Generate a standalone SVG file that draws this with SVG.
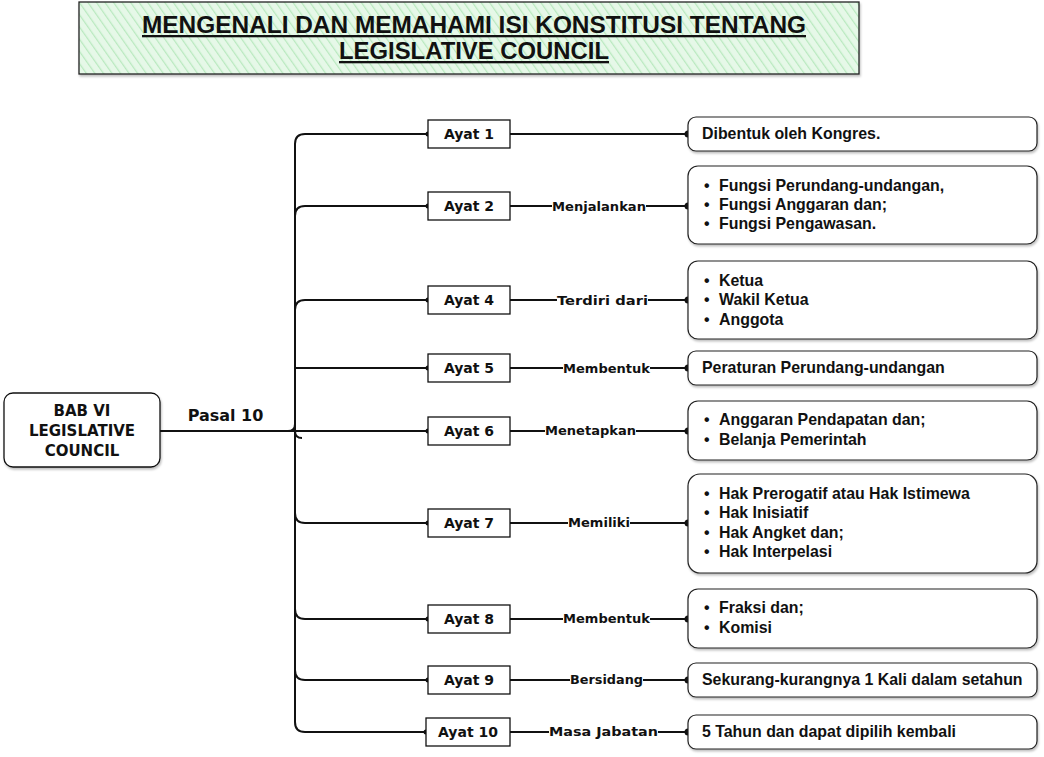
<svg xmlns="http://www.w3.org/2000/svg" width="1044" height="757" viewBox="0 0 1044 757">
<defs>
<pattern id="hatch" patternUnits="userSpaceOnUse" width="7" height="7" patternTransform="rotate(-35)">
<rect width="7" height="7" fill="#e6f8e8"/>
<line x1="0" y1="0" x2="0" y2="7" stroke="#b9e9bf" stroke-width="2.5"/>
</pattern>
<filter id="sh" x="-10%" y="-10%" width="120%" height="130%">
<feDropShadow dx="1" dy="2" stdDeviation="1.2" flood-color="#000" flood-opacity="0.25"/>
</filter>
</defs>
<style>
.title{font-family:"Liberation Sans",Arial,sans-serif;font-weight:bold;font-size:23px;fill:#111;text-decoration:underline}
.comic{font-family:"DejaVu Sans",Verdana,sans-serif;font-weight:bold;fill:#111}
.ayat{font-size:14px}
.lbl{font-size:13px}
.box{fill:#fff;stroke:#111;stroke-width:1.3}
.rbox{fill:#fff;stroke:#222;stroke-width:1.2}
.txt{font-family:"Liberation Sans",Arial,sans-serif;font-weight:bold;font-size:15.9px;fill:#111}
.ln{fill:none;stroke:#111;stroke-width:2}
.dot{fill:#111}
</style>
<rect width="1044" height="757" fill="#fff"/>

<g id="title">
<rect x="79" y="2" width="780" height="72" fill="url(#hatch)" stroke="#222" stroke-width="1.3" filter="url(#sh)"/>
<text class="title" x="474" y="33" text-anchor="middle" textLength="664" lengthAdjust="spacingAndGlyphs">MENGENALI DAN MEMAHAMI ISI KONSTITUSI TENTANG</text>
<text class="title" x="474" y="59" text-anchor="middle" textLength="270" lengthAdjust="spacingAndGlyphs">LEGISLATIVE COUNCIL</text>
</g>

<g id="connectors">
<path class="ln" stroke-width="2.5" d="M160 431 H288 Q295 431 295 424 M295 431 Q295 438 302 438"/>
<path class="ln" stroke-width="2.5" d="M160 431 H295"/>
<path class="ln" stroke-width="2.5" d="M295 144 V722"/>
<path class="ln" d="M295 144 Q295 134 305 134 H428"/>
<path class="ln" d="M295 216 Q295 206 305 206 H428"/>
<path class="ln" d="M295 310 Q295 300 305 300 H428"/>
<path class="ln" d="M295 368 H428"/>
<path class="ln" d="M295 431 H428"/>
<path class="ln" d="M295 513 Q295 523 305 523 H428"/>
<path class="ln" d="M295 609 Q295 619 305 619 H428"/>
<path class="ln" d="M295 670 Q295 680 305 680 H428"/>
<path class="ln" d="M295 722 Q295 732 305 732 H426"/>
<g class="dot">
<circle cx="428" cy="134" r="2.5"/><circle cx="428" cy="206" r="2.5"/><circle cx="428" cy="300" r="2.5"/>
<circle cx="428" cy="368" r="2.5"/><circle cx="428" cy="431" r="2.5"/><circle cx="428" cy="523" r="2.5"/>
<circle cx="428" cy="619" r="2.5"/><circle cx="428" cy="680" r="2.5"/><circle cx="426" cy="732" r="2.5"/>
</g>
<path class="ln" d="M510 134 H688"/>
<path class="ln" d="M510 206 H688"/>
<path class="ln" d="M510 300 H688"/>
<path class="ln" d="M510 368 H688"/>
<path class="ln" d="M510 431 H688"/>
<path class="ln" d="M510 523 H688"/>
<path class="ln" d="M510 619 H688"/>
<path class="ln" d="M510 680 H688"/>
<path class="ln" d="M510 732 H688"/>
<g class="dot">
<circle cx="688" cy="134" r="3.5"/><circle cx="688" cy="206" r="3.5"/><circle cx="688" cy="300" r="3.5"/>
<circle cx="688" cy="368" r="3.5"/><circle cx="688" cy="431" r="3.5"/><circle cx="688" cy="523" r="3.5"/>
<circle cx="688" cy="619" r="3.5"/><circle cx="688" cy="680" r="3.5"/><circle cx="688" cy="732" r="3.5"/>
</g>
<g fill="#fff">
<rect x="552" y="198" width="94" height="16"/>
<rect x="557" y="292" width="91" height="16"/>
<rect x="563" y="360" width="87" height="16"/>
<rect x="545" y="423" width="91" height="16"/>
<rect x="568" y="515" width="62" height="16"/>
<rect x="563" y="611" width="87" height="16"/>
<rect x="570" y="672" width="73" height="16"/>
<rect x="549" y="724" width="109" height="16"/>
</g>
<g class="comic lbl" text-anchor="middle">
<text x="599" y="211" textLength="94" lengthAdjust="spacingAndGlyphs">Menjalankan</text>
<text x="602.5" y="305" textLength="91" lengthAdjust="spacingAndGlyphs">Terdiri dari</text>
<text x="606.5" y="373" textLength="87" lengthAdjust="spacingAndGlyphs">Membentuk</text>
<text x="590.5" y="435" textLength="91" lengthAdjust="spacingAndGlyphs">Menetapkan</text>
<text x="599" y="527" textLength="62" lengthAdjust="spacingAndGlyphs">Memiliki</text>
<text x="606.5" y="623" textLength="87" lengthAdjust="spacingAndGlyphs">Membentuk</text>
<text x="606.5" y="684" textLength="73" lengthAdjust="spacingAndGlyphs">Bersidang</text>
<text x="603.5" y="736" textLength="109" lengthAdjust="spacingAndGlyphs">Masa Jabatan</text>
</g>
<text class="comic" x="225.5" y="421" font-size="16" text-anchor="middle">Pasal 10</text>
</g>

<g id="root">
<rect x="4" y="393" width="156" height="74" rx="9" class="box" filter="url(#sh)"/>
<g class="comic" font-size="15" text-anchor="middle">
<text x="82" y="416">BAB VI</text>
<text x="82" y="436">LEGISLATIVE</text>
<text x="82" y="456">COUNCIL</text>
</g>
</g>

<g id="ayat1"><rect class="box" x="428" y="120" width="82" height="28"/><text class="comic ayat" x="469" y="139" text-anchor="middle">Ayat 1</text></g>
<g id="ayat2"><rect class="box" x="428" y="192" width="82" height="28"/><text class="comic ayat" x="469" y="211" text-anchor="middle">Ayat 2</text></g>
<g id="ayat4"><rect class="box" x="428" y="286" width="82" height="28"/><text class="comic ayat" x="469" y="305" text-anchor="middle">Ayat 4</text></g>
<g id="ayat5"><rect class="box" x="428" y="354" width="82" height="28"/><text class="comic ayat" x="469" y="373" text-anchor="middle">Ayat 5</text></g>
<g id="ayat6"><rect class="box" x="428" y="417" width="82" height="28"/><text class="comic ayat" x="469" y="436" text-anchor="middle">Ayat 6</text></g>
<g id="ayat7"><rect class="box" x="428" y="509" width="82" height="28"/><text class="comic ayat" x="469" y="528" text-anchor="middle">Ayat 7</text></g>
<g id="ayat8"><rect class="box" x="428" y="605" width="82" height="28"/><text class="comic ayat" x="469" y="624" text-anchor="middle">Ayat 8</text></g>
<g id="ayat9"><rect class="box" x="428" y="666" width="82" height="28"/><text class="comic ayat" x="469" y="685" text-anchor="middle">Ayat 9</text></g>
<g id="ayat10"><rect class="box" x="426" y="718" width="84" height="28"/><text class="comic ayat" x="468" y="737" text-anchor="middle">Ayat 10</text></g>

<g id="r1"><rect class="rbox" x="688" y="117" width="349" height="34" rx="8" filter="url(#sh)"/>
<text class="txt" x="702" y="139">Dibentuk oleh Kongres.</text></g>
<g id="r2"><rect class="rbox" x="688" y="166" width="349" height="78" rx="10" filter="url(#sh)"/>
<g class="txt"><text x="704" y="191">•</text><text x="719" y="191">Fungsi Perundang-undangan,</text>
<text x="704" y="210">•</text><text x="719" y="210">Fungsi Anggaran dan;</text>
<text x="704" y="229">•</text><text x="719" y="229">Fungsi Pengawasan.</text></g></g>
<g id="r3"><rect class="rbox" x="688" y="261" width="349" height="78" rx="10" filter="url(#sh)"/>
<g class="txt"><text x="704" y="286">•</text><text x="719" y="286">Ketua</text>
<text x="704" y="305">•</text><text x="719" y="305">Wakil Ketua</text>
<text x="704" y="325">•</text><text x="719" y="325">Anggota</text></g></g>
<g id="r4"><rect class="rbox" x="688" y="351" width="349" height="34" rx="8" filter="url(#sh)"/>
<text class="txt" x="702" y="373">Peraturan Perundang-undangan</text></g>
<g id="r5"><rect class="rbox" x="688" y="401" width="349" height="59" rx="10" filter="url(#sh)"/>
<g class="txt"><text x="704" y="425">•</text><text x="719" y="425">Anggaran Pendapatan dan;</text>
<text x="704" y="445">•</text><text x="719" y="445">Belanja Pemerintah</text></g></g>
<g id="r6"><rect class="rbox" x="688" y="474" width="349" height="99" rx="12" filter="url(#sh)"/>
<g class="txt"><text x="704" y="499">•</text><text x="719" y="499">Hak Prerogatif atau Hak Istimewa</text>
<text x="704" y="518">•</text><text x="719" y="518">Hak Inisiatif</text>
<text x="704" y="538">•</text><text x="719" y="538">Hak Angket dan;</text>
<text x="704" y="557">•</text><text x="719" y="557">Hak Interpelasi</text></g></g>
<g id="r7"><rect class="rbox" x="688" y="589" width="349" height="59" rx="10" filter="url(#sh)"/>
<g class="txt"><text x="704" y="613">•</text><text x="719" y="613">Fraksi dan;</text>
<text x="704" y="633">•</text><text x="719" y="633">Komisi</text></g></g>
<g id="r8"><rect class="rbox" x="688" y="663" width="349" height="34" rx="8" filter="url(#sh)"/>
<text class="txt" x="702" y="685">Sekurang-kurangnya 1 Kali dalam setahun</text></g>
<g id="r9"><rect class="rbox" x="688" y="715" width="349" height="34" rx="8" filter="url(#sh)"/>
<text class="txt" x="702" y="737">5 Tahun dan dapat dipilih kembali</text></g>
</svg>
